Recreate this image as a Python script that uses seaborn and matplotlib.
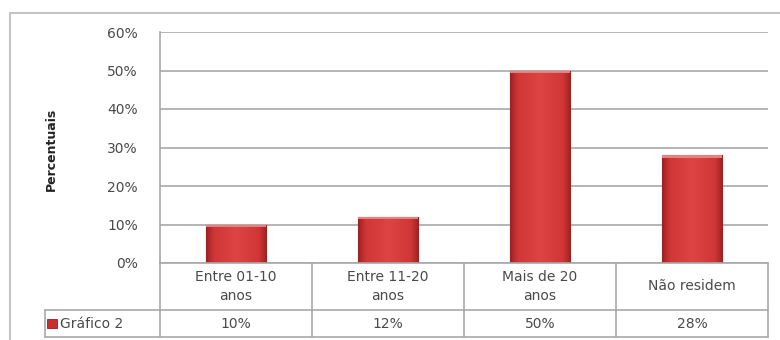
import numpy as np
import pandas as pd
import matplotlib
matplotlib.use("Agg")
import matplotlib.pyplot as plt
import matplotlib.transforms as mtransforms
from matplotlib.colors import LinearSegmentedColormap
from matplotlib.lines import Line2D
from matplotlib.patches import Rectangle
from matplotlib.ticker import PercentFormatter
import seaborn as sns

# Share of respondents by length of residence
categories = ["Entre 01-10\nanos", "Entre 11-20\nanos", "Mais de 20\nanos", "Não residem"]
values = [0.10, 0.12, 0.50, 0.28]
series_name = "Gráfico 2"
y_ticks = [0.0, 0.1, 0.2, 0.3, 0.4, 0.5, 0.6]
y_label = "Percentuais"

sns.set_theme(style="white")
plt.rcParams["font.family"] = ["DejaVu Sans"]

TEXT = "#4a4a4a"
GRID = "#a8a8a8"
BAR = "#d63b3b"

W, H = 780, 340
fig = plt.figure(figsize=(W / 100, H / 100), dpi=100)
fig.patch.set_facecolor("white")

# plot area in pixel terms: left 160, right 768, top 32, bottom 263
ax = fig.add_axes([160 / W, 1 - 263 / H, 608 / W, 231 / H])
df = pd.DataFrame({"categoria": categories, "valor": values})
sns.barplot(data=df, x="categoria", y="valor", ax=ax, color=BAR,
            width=0.4, saturation=1, edgecolor="#8f1f1f", linewidth=0.8)

# horizontal shading across each bar for the bevelled look
shade = LinearSegmentedColormap.from_list(
    "bar_shade",
    [(0.0, "#9e2222"), (0.12, "#cf3636"), (0.5, "#df4444"),
     (0.88, "#cf3636"), (1.0, "#9e2222")])
grad = np.linspace(0, 1, 64).reshape(1, -1)
for patch in list(ax.patches):
    x0, y0 = patch.get_x(), patch.get_y()
    w, h = patch.get_width(), patch.get_height()
    im = ax.imshow(grad, extent=[x0, x0 + w, y0, y0 + h], aspect="auto",
                   cmap=shade, zorder=patch.get_zorder() + 0.1,
                   interpolation="bicubic")
    im.set_clip_path(patch)
    ax.add_patch(Rectangle((x0, y0 + h - 0.006), w, 0.006, facecolor="#e98080",
                           edgecolor="none", zorder=patch.get_zorder() + 0.2))

ax.set_xlim(-0.5, len(categories) - 0.5)
ax.set_ylim(0, 0.6)
ax.set_yticks(y_ticks)
ax.yaxis.set_major_formatter(PercentFormatter(xmax=1, decimals=0))
ax.yaxis.grid(True, color=GRID, linewidth=1.2)
ax.set_axisbelow(True)
ax.set_xticks(range(len(categories)))
ax.set_xticklabels([])
ax.set_xlabel("")
ax.set_ylabel("")
ax.tick_params(axis="both", length=0)
ax.tick_params(axis="y", pad=16, labelsize=10, labelcolor=TEXT)
for side in ("top", "right", "bottom"):
    ax.spines[side].set_visible(False)
ax.spines["left"].set_color(GRID)
ax.spines["left"].set_linewidth(1.2)

# data table under the plot area
trans = mtransforms.blended_transform_factory(ax.transData, ax.transAxes)
r1 = -47 / 231
r2 = -74 / 231
left_edge = -0.5 - 115 / 152
n = len(categories)
line_kw = dict(color=GRID, linewidth=1.2, transform=trans, clip_on=False)
ax.add_line(Line2D([-0.5, n - 0.5], [0, 0], **line_kw))
ax.add_line(Line2D([left_edge, n - 0.5], [r1, r1], **line_kw))
ax.add_line(Line2D([left_edge, n - 0.5], [r2, r2], **line_kw))
for k in range(n + 1):
    ax.add_line(Line2D([k - 0.5, k - 0.5], [0, r2], **line_kw))
ax.add_line(Line2D([left_edge, left_edge], [r1, r2], **line_kw))

for i, (cat, val) in enumerate(zip(categories, values)):
    ax.text(i, r1 / 2, cat, transform=trans, ha="center", va="center",
            fontsize=10, color=TEXT, linespacing=1.45, clip_on=False)
    ax.text(i, (r1 + r2) / 2, f"{val:.0%}", transform=trans, ha="center",
            va="center", fontsize=10, color=TEXT, clip_on=False)

# legend key in the table's row header
fig.add_artist(Rectangle((47 / W, 1 - 328 / H), 10 / W, 9 / H,
                         transform=fig.transFigure, facecolor="#c83030",
                         edgecolor="#8f1f1f", linewidth=0.6))
fig.text(60 / W, 1 - 323.5 / H, series_name, ha="left", va="center",
         fontsize=10, color=TEXT)

fig.text(51 / W, 1 - 149 / H, y_label, rotation=90, ha="center", va="center",
         fontsize=9, fontweight="bold", color="#222222")

# outer chart frame
frame_kw = dict(color="#c4c4c4", linewidth=1.5, transform=fig.transFigure)
fig.add_artist(Line2D([10 / W, 1.01], [1 - 13 / H, 1 - 13 / H], **frame_kw))
fig.add_artist(Line2D([10 / W, 10 / W], [-0.01, 1 - 13 / H], **frame_kw))

fig.savefig("out.png", dpi=100, facecolor="white")
